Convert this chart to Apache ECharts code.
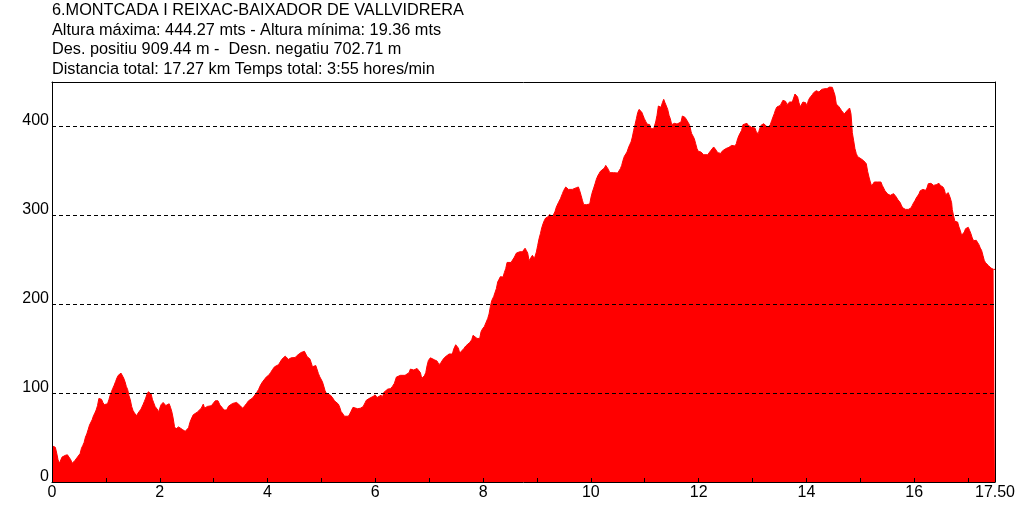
<!DOCTYPE html>
<html>
<head>
<meta charset="utf-8">
<script src="https://cdn.jsdelivr.net/npm/echarts@6/dist/echarts.min.js"></script>
<style>
html,body{margin:0;padding:0;background:#fff;}
#chart{width:1020px;height:508px;}
</style>
</head>
<body>
<div id="chart"></div>
<script>
// ---- data ----
const titleLines = [
  "6.MONTCADA I REIXAC-BAIXADOR DE VALLVIDRERA",
  "Altura máxima: 444.27 mts - Altura mínima: 19.36 mts",
  "Des. positiu 909.44 m -  Desn. negatiu 702.71 m",
  "Distancia total: 17.27 km Temps total: 3:55 hores/min"
];
const yTicks = [100, 200, 300, 400];
const distKm = [
0.000,0.062,0.087,0.112,0.137,0.161,0.186,0.211,0.248,0.286,0.323,0.348,0.373,0.398,0.422,0.460,0.497,0.522,0.547,0.571,
0.596,0.621,0.646,0.671,0.696,0.720,0.745,0.770,0.795,0.820,0.845,0.870,0.894,0.919,0.944,0.969,1.006,1.031,1.056,1.081,
1.106,1.130,1.155,1.180,1.205,1.230,1.255,1.280,1.304,1.329,1.354,1.379,1.404,1.429,1.453,1.478,1.503,1.528,1.565,1.590,
1.615,1.652,1.689,1.714,1.739,1.764,1.789,1.814,1.839,1.863,1.888,1.913,1.938,1.963,1.975,2.000,2.025,2.062,2.087,2.112,
2.149,2.174,2.199,2.224,2.248,2.273,2.298,2.323,2.348,2.385,2.422,2.447,2.472,2.509,2.534,2.559,2.584,2.621,2.658,2.696,
2.733,2.770,2.807,2.832,2.857,2.882,2.919,
2.957,2.994,3.031,3.056,3.080,3.117,3.154,3.191,3.241,3.278,3.315,3.352,3.377,3.426,3.463,3.500,3.537,3.574,3.611,3.648,
3.685,3.722,3.759,3.796,3.833,3.870,3.907,3.944,3.981,4.019,4.056,4.093,4.130,4.167,4.204,4.241,4.265,4.290,4.327,4.364,
4.389,4.414,4.438,4.475,4.512,4.549,4.586,4.623,4.660,4.685,4.710,4.735,4.759,4.784,4.809,4.833,4.858,4.895,4.920,4.944,
4.969,4.994,5.019,5.043,5.068,5.093,5.117,5.167,5.191,5.216,5.241,5.278,5.315,5.340,5.364,5.401,5.426,5.463,5.500,5.525,
5.549,5.586,5.623,5.673,5.722,5.772,5.809,5.833,5.870,5.907,
5.958,5.996,6.033,6.070,6.107,6.132,6.156,6.193,6.231,6.280,6.317,6.354,6.391,6.428,6.466,6.503,6.552,6.589,6.626,6.651,
6.688,6.713,6.738,6.775,6.812,6.837,6.861,6.886,6.911,6.936,6.960,6.985,7.022,7.059,7.096,7.121,7.146,7.183,7.220,7.257,
7.294,7.331,7.368,7.393,7.430,7.455,7.492,7.517,7.542,7.566,7.603,7.641,7.678,7.715,7.752,7.789,7.814,7.851,7.888,7.937,
7.962,7.987,8.024,8.061,8.086,8.111,8.135,8.160,8.197,8.222,8.247,8.271,8.296,8.321,8.346,8.370,8.395,8.420,8.445,8.482,
8.519,8.556,8.581,8.618,8.643,8.680,8.729,8.754,8.779,8.803,8.828,8.853,8.890,8.915,
8.952,8.977,8.989,9.014,9.039,9.064,9.088,9.113,9.138,9.162,9.200,9.237,9.261,9.286,9.311,9.336,9.360,9.397,9.435,9.472,
9.496,9.534,9.558,9.583,9.620,9.657,9.694,9.731,9.769,9.793,9.818,9.843,9.867,9.917,9.942,9.979,10.004,10.028,10.053,10.078,
10.102,10.127,10.152,10.177,10.214,10.251,10.276,10.300,10.325,10.350,10.387,10.424,10.461,10.498,10.523,10.548,10.572,10.597,10.622,10.647,
10.671,10.696,10.721,10.746,10.770,10.795,10.820,10.845,10.869,10.894,10.919,10.944,10.968,10.993,11.018,11.043,11.067,11.092,11.117,11.166,
11.191,11.203,11.228,11.253,11.277,11.302,11.327,11.352,11.376,11.401,11.426,11.451,11.475,11.500,11.525,11.550,11.574,11.599,11.636,11.673,
11.698,11.723,11.748,11.785,11.809,11.834,11.859,
11.871,11.895,11.920,11.945,11.970,11.994,12.019,12.044,12.069,12.093,12.130,12.168,12.205,12.229,12.254,12.279,12.304,12.328,12.353,12.390,
12.415,12.440,12.464,12.502,12.539,12.563,12.588,12.613,12.638,12.675,12.699,12.724,12.749,12.774,12.798,12.823,12.860,12.897,12.922,12.947,
12.984,13.021,13.046,13.070,13.108,13.132,13.157,13.182,13.207,13.244,13.281,13.306,13.330,13.355,13.380,13.404,13.429,13.454,13.479,13.516,
13.540,13.565,13.590,13.615,13.639,13.664,13.689,13.714,13.738,13.763,13.788,13.813,13.837,13.862,13.887,13.912,13.936,13.961,13.986,14.010,
14.035,14.060,14.085,14.109,14.134,14.159,14.184,14.208,14.233,14.258,14.283,14.307,14.344,14.382,14.406,14.431,14.456,14.481,14.505,14.530,
14.555,14.580,14.604,14.629,14.654,14.678,14.703,14.728,14.753,14.777,14.802,
14.815,14.827,14.839,14.852,14.876,14.901,14.926,14.951,14.988,15.012,15.037,15.062,15.087,15.111,15.136,15.161,15.186,15.210,15.235,15.260,
15.297,15.322,15.359,15.383,15.408,15.433,15.458,15.482,15.507,15.532,15.557,15.594,15.618,15.643,15.668,15.693,15.717,15.742,15.767,15.792,
15.816,15.841,15.866,15.891,15.915,15.940,15.965,15.990,16.014,16.039,16.064,16.089,16.113,16.138,16.163,16.187,16.212,16.237,16.262,16.286,
16.311,16.336,16.361,16.385,16.410,16.435,16.460,16.484,16.509,16.534,16.559,16.583,16.608,16.633,16.657,16.670,16.695,16.707,16.732,16.756,
16.781,16.806,16.831,16.855,16.880,16.905,16.930,16.954,16.979,17.004,17.028,17.053,17.078,17.103,17.127,17.152,17.177,17.202,17.226,17.251,
17.276,17.300,17.325,17.350,17.375,17.399,17.424,17.449,17.474,17.500
];
const elevM = [
40.8,39,32.5,25,21,19.4,28,29.5,30,30.6,29,25,21,21,24,27,27,32,38,41,
44.5,50.5,54,59,64,65.5,70,74.5,77.5,81,86,94,95.5,93,89.5,87,85,88,92.5,98,
102,105.6,109,113,117,120,122,122.5,122,117,113,107.5,104,97,92.5,85,80.5,78,74.5,75.6,
79,82,87,90.6,94.4,99,101.5,102,99,93,89,85,83,81,78,83,87,89.5,90,86,
86,88,84,79,71.9,62.5,59.5,59,62,60.6,59,59.5,57,57,61,67,70.8,75.6,77.5,78.6,
80.5,83,87.6,83,82,85,86,
85.8,86.5,91.4,93,91.4,86.5,84,81,81,85.4,87,88.4,90,89.5,87.6,85.4,83,85.4,88.4,91.4,
92,94.4,96.6,100.4,104,109,112.7,114.6,118.4,120,123,126.6,129.6,131.5,132,134,138,140,141.6,141,
138,139.4,139.7,138,140,142.4,144.6,145.7,147,147,144,141,141.6,138.6,134.5,129.6,128.9,131,129.6,122,
118.4,116.5,112.7,107.9,102.6,99.6,97.7,97.7,95.9,94,91.4,90.3,87.6,84,79.4,76.4,74,73.4,74,76.4,
79.4,84,83,82.4,83,84.6,89,92,94,94.7,
96.2,98,95,96,97.7,95,100.7,102,104.5,105,107.5,111,118,116.5,120,120,120,121.7,123,127,
128.5,126,125.5,127.7,127.7,123,116.5,115,119.5,123,130.7,136.7,139.7,137.5,137.5,138,136,132,134.5,138,
140.5,142,144,142,144,149.5,154.4,155.5,150.6,145,146.5,150,153,154.4,157,160,165,164.5,161.5,161.5,
169,172,175,175.7,184,189,197.5,204,208.7,210.6,217.7,225,228,231,233,230.5,235.7,240,247,249,
247,249,253,257.5,259.7,259,259,261,263,260.5,257.5,249,250.7,255,
251.3,252,258.8,266.3,273.8,279.4,285.8,290.6,294.4,297,298.1,301,300,298,300,304.5,309.4,314.2,318.7,324.4,
328,331.9,332.6,329.2,327.7,329.2,330,331.1,331.9,327.7,322.5,316.9,312,312,312.7,312.7,320.6,326.2,330.7,335.6,
340.5,344.2,346.9,349.5,351.7,353.2,356.2,354.4,351.7,348,348.7,348,348.7,347.6,348,352.5,356.2,361.9,366.4,366.8,
371.2,375.7,379.5,382.5,388.1,395.6,402,408.7,415.5,419.2,419.6,416.2,412.5,408.7,405.7,402.7,402.7,402,397.5,397.5,
397.5,405,412.5,423,423.7,421.5,426.7,430.5,426.7,423,419.2,412.5,408.7,402,402.7,403.5,402,402.7,404.2,405,
411.7,412.5,410.2,408,404.2,401.2,394.5,
391.9,389.2,386.2,380.6,375,372,370.5,371.2,369.4,368.2,367.1,368.2,368.2,373.1,375,376.9,378,373.1,370.5,370.5,
369.7,372.4,374.2,375,375,376.5,378,378.7,376.9,378,380.6,386.2,390,391.9,395.6,402,402.7,403.5,401.2,399,
399,399.4,398.2,393.7,391.9,397.5,401.2,403.1,403.1,401.2,399,400.5,402,406.5,410.6,414.4,419.2,421.9,423.7,423.7,
424.5,429.4,431.2,428.2,424.5,424.5,427.5,426.7,427.5,432,436.5,437.2,433.1,426.7,422.2,423,427.5,427.5,426.7,423,
429,432,434.2,435.7,438,439.5,440.2,441,438.7,439.5,441.7,442.5,442.5,442.5,443.2,444.27,443.2,444,442.5,435,
425.2,423.7,422.2,420,417.7,417,414,416.2,417.7,419.2,420.7,
420,414.4,405,393,384.4,375,369.4,366,365.2,363.7,363,361.5,360.7,358.1,349.5,343.1,337.5,333,334.4,337.5,
337.5,337.5,339.4,337.5,333.7,330.7,327.7,326.2,324,322.5,322.5,323.2,324.4,323.2,320.6,318,316.9,314.2,310.5,308.2,
306.7,306.7,308.2,306.7,306.7,308.2,311.2,314.2,316.5,319.5,321.7,324,327.7,329.2,329.2,328.5,328.1,330.7,335.6,336.7,
336,334.5,333.7,335.6,334.5,335.6,336,333.7,331.9,331.9,329.2,323.2,322.5,325.5,324.4,319.5,314.2,306.4,299.3,293.2,
292.5,292.5,286.9,283.1,277.5,276.7,281.2,285,286.9,286.5,283.1,279.4,274.5,271.5,270.8,271.9,271.9,267,263.3,260.6,
255,249.4,246.7,244.5,243.7,241.9,240.7,239.2,239.2,239.2
];

// ---- chart ----
const FONT = "'Liberation Sans', Arial, sans-serif";
const points = distKm.map((d, i) => [d, elevM[i]]);
const chart = echarts.init(document.getElementById('chart'), null, {renderer: 'canvas'});
const titleY = [11, 30.5, 50, 70];
chart.setOption({
  animation: false,
  backgroundColor: '#fff',
  graphic: titleLines.map((t, i) => ({
    type: 'text', left: 52, top: titleY[i] - 8,
    style: {text: t, font: '16.3px ' + FONT, fill: '#000'}
  })),
  grid: {left: 52, right: 25, top: 82, bottom: 26, show: false},
  xAxis: [{
    type: 'value', min: 0, max: 17.5, interval: 1, z: 10,
    axisLine: {show: true, onZero: false, lineStyle: {color: '#000', width: 1}},
    axisTick: {show: true, inside: true, length: 4, lineStyle: {color: '#000'}},
    splitLine: {show: false},
    axisLabel: {
      color: '#000', fontSize: 16, fontFamily: FONT, margin: 3,
      formatter: v => (v === 17.5 ? '17.50' : (Math.round(v) % 2 === 0 ? String(Math.round(v)) : ''))
    }
  }, {
    type: 'value', position: 'top', min: 0, max: 17.5, z: 10,
    axisLine: {show: true, onZero: false, lineStyle: {color: '#000', width: 1}},
    axisTick: {show: false}, axisLabel: {show: false}, splitLine: {show: false}
  }],
  yAxis: [{
    type: 'value', min: 0, max: 450, interval: 100, z: 10,
    axisLine: {show: true, onZero: false, lineStyle: {color: '#000', width: 1}},
    axisTick: {show: false},
    splitLine: {show: false},
    axisLabel: {
      color: '#000', fontSize: 16, fontFamily: FONT, margin: 3,
      verticalAlign: 'bottom', lineHeight: 11,
      formatter: v => (v % 100 === 0 ? String(v) : '')
    }
  }, {
    type: 'value', position: 'right', min: 0, max: 450, z: 10,
    axisLine: {show: true, onZero: false, lineStyle: {color: '#000', width: 1}},
    axisTick: {show: false}, axisLabel: {show: false}, splitLine: {show: false}
  }],
  series: [{
    type: 'line',
    xAxisIndex: 0, yAxisIndex: 0,
    data: points,
    showSymbol: false,
    symbol: 'none',
    lineStyle: {color: '#ff0000', width: 1},
    areaStyle: {color: '#ff0000', opacity: 1},
    markLine: {
      silent: true, symbol: 'none', animation: false,
      label: {show: false},
      lineStyle: {color: '#000', type: [4, 3], width: 1},
      data: yTicks.map(v => ({yAxis: v}))
    }
  }]
});
</script>
</body>
</html>
